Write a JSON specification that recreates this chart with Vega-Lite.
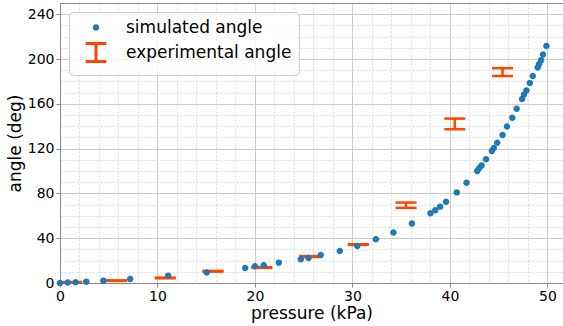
{
  "$schema": "https://vega.github.io/schema/vega-lite/v6.json",
  "width": 503,
  "height": 280,
  "autosize": {"type": "none"},
  "padding": {"left": 60, "top": 3, "right": 0, "bottom": 43},
  "config": {
    "view": {"stroke": null},
    "font": "DejaVu Sans",
    "axis": {"labelFont": "DejaVu Sans", "titleFont": "DejaVu Sans"}
  },
  "datasets": {
    "sim": [
      {"series": "simulated angle", "p": 0, "angle": 0},
      {"series": "simulated angle", "p": 0.8, "angle": 0.4},
      {"series": "simulated angle", "p": 1.6, "angle": 0.6},
      {"series": "simulated angle", "p": 2.7, "angle": 1.2},
      {"series": "simulated angle", "p": 4.45, "angle": 2.1},
      {"series": "simulated angle", "p": 7.2, "angle": 3.6},
      {"series": "simulated angle", "p": 11.1, "angle": 6.6},
      {"series": "simulated angle", "p": 15.05, "angle": 9.3},
      {"series": "simulated angle", "p": 19.0, "angle": 13.4},
      {"series": "simulated angle", "p": 20.0, "angle": 14.9},
      {"series": "simulated angle", "p": 20.9, "angle": 15.8},
      {"series": "simulated angle", "p": 22.45, "angle": 18.2},
      {"series": "simulated angle", "p": 24.7, "angle": 21.2},
      {"series": "simulated angle", "p": 25.5, "angle": 22.4},
      {"series": "simulated angle", "p": 26.75, "angle": 25.0},
      {"series": "simulated angle", "p": 28.7, "angle": 28.6},
      {"series": "simulated angle", "p": 30.5, "angle": 33.1},
      {"series": "simulated angle", "p": 32.4, "angle": 39.1},
      {"series": "simulated angle", "p": 34.2, "angle": 45.1},
      {"series": "simulated angle", "p": 36.1, "angle": 53.1},
      {"series": "simulated angle", "p": 38.0, "angle": 62.2},
      {"series": "simulated angle", "p": 38.5, "angle": 65.0},
      {"series": "simulated angle", "p": 39.0, "angle": 68.2},
      {"series": "simulated angle", "p": 39.6, "angle": 72.6},
      {"series": "simulated angle", "p": 40.7, "angle": 80.9},
      {"series": "simulated angle", "p": 41.7, "angle": 89.5},
      {"series": "simulated angle", "p": 42.8, "angle": 100.0},
      {"series": "simulated angle", "p": 43.0, "angle": 102.5},
      {"series": "simulated angle", "p": 43.25, "angle": 105.0},
      {"series": "simulated angle", "p": 43.7, "angle": 110.5},
      {"series": "simulated angle", "p": 44.3, "angle": 117.8},
      {"series": "simulated angle", "p": 44.5, "angle": 120.6},
      {"series": "simulated angle", "p": 44.85, "angle": 125.2},
      {"series": "simulated angle", "p": 45.4, "angle": 132.2},
      {"series": "simulated angle", "p": 45.85, "angle": 139.7},
      {"series": "simulated angle", "p": 46.4, "angle": 147.6},
      {"series": "simulated angle", "p": 46.85, "angle": 155.6},
      {"series": "simulated angle", "p": 47.4, "angle": 164.3},
      {"series": "simulated angle", "p": 47.6, "angle": 168.2},
      {"series": "simulated angle", "p": 47.85, "angle": 172.0},
      {"series": "simulated angle", "p": 48.2, "angle": 178.5},
      {"series": "simulated angle", "p": 48.5, "angle": 184.9},
      {"series": "simulated angle", "p": 49.0, "angle": 192.4},
      {"series": "simulated angle", "p": 49.15, "angle": 195.5},
      {"series": "simulated angle", "p": 49.35, "angle": 199.0},
      {"series": "simulated angle", "p": 49.55, "angle": 204.0},
      {"series": "simulated angle", "p": 49.9, "angle": 211.7}
    ],
    "exp": [
      {"series": "experimental angle", "p": 1.2, "lo": 0.4, "hi": 0.8},
      {"series": "experimental angle", "p": 5.8, "lo": 1.9, "hi": 2.3},
      {"series": "experimental angle", "p": 10.8, "lo": 4.2, "hi": 4.8},
      {"series": "experimental angle", "p": 15.7, "lo": 10.2, "hi": 10.8},
      {"series": "experimental angle", "p": 20.7, "lo": 13.5, "hi": 14.1},
      {"series": "experimental angle", "p": 25.6, "lo": 23.2, "hi": 24.0},
      {"series": "experimental angle", "p": 30.6, "lo": 34.0, "hi": 34.6},
      {"series": "experimental angle", "p": 35.5, "lo": 67.1, "hi": 71.8},
      {"series": "experimental angle", "p": 40.5, "lo": 137.3, "hi": 146.8},
      {"series": "experimental angle", "p": 45.4, "lo": 184.8, "hi": 191.8}
    ]
  },
  "layer": [
    {
      "data": {"name": "exp"},
      "mark": {"type": "rule", "color": "#ff4500", "strokeWidth": 2.5},
      "encoding": {
        "x": {"field": "p", "type": "quantitative", "scale": {"domain": [0, 51.6], "nice": false, "zero": false},
          "axis": {"orient": "top", "labels": false, "ticks": false, "grid": false, "title": null, "domainColor": "#888888", "domainWidth": 1}},
        "y": {"field": "lo", "type": "quantitative", "scale": {"domain": [0, 250], "nice": false, "zero": false}, "axis": null},
        "y2": {"field": "hi"}
      }
    },
    {
      "data": {"name": "exp"},
      "mark": {"type": "tick", "orient": "horizontal", "color": "#ff4500", "size": 21, "thickness": 2.5, "opacity": 1},
      "encoding": {
        "x": {"field": "p", "type": "quantitative", "scale": {"domain": [0, 51.6], "nice": false, "zero": false}, "axis": null},
        "y": {"field": "lo", "type": "quantitative", "scale": {"domain": [0, 250], "nice": false, "zero": false}, "axis": null}
      }
    },
    {
      "data": {"name": "exp"},
      "mark": {"type": "tick", "orient": "horizontal", "color": "#ff4500", "size": 21, "thickness": 2.5, "opacity": 1},
      "encoding": {
        "x": {"field": "p", "type": "quantitative", "scale": {"domain": [0, 51.6], "nice": false, "zero": false}, "axis": null},
        "y": {"field": "hi", "type": "quantitative", "scale": {"domain": [0, 250], "nice": false, "zero": false}, "axis": null}
      }
    },
    {
      "data": {"name": "sim"},
      "mark": {"type": "point", "filled": false, "size": 12, "strokeWidth": 3, "opacity": 1},
      "encoding": {
        "x": {"field": "p", "type": "quantitative", "scale": {"domain": [0, 51.6], "nice": false, "zero": false},
          "axis": {
            "values": [0, 2, 4, 6, 8, 10, 12, 14, 16, 18, 20, 22, 24, 26, 28, 30, 32, 34, 36, 38, 40, 42, 44, 46, 48, 50],
            "title": "pressure (kPa)", "titleFontSize": 17, "titleFontWeight": "normal", "titleColor": "#000000", "titlePadding": 2,
            "labelFontSize": 14, "labelColor": "#000000", "labelPadding": 2, "labelOverlap": false, "labelFlush": false,
            "labelExpr": "datum.value % 10 === 0 ? datum.label : ''",
            "tickSize": 4, "tickColor": "#888888",
            "tickOpacity": {"condition": {"test": "datum.value % 10 === 0", "value": 1}, "value": 0},
            "grid": true,
            "gridColor": {"condition": {"test": "datum.value % 10 === 0", "value": "#cccccc"}, "value": "#dcdcdc"},
            "gridDash": {"condition": {"test": "datum.value % 10 === 0", "value": []}, "value": [2, 2]},
            "domainColor": "#888888", "domainWidth": 1
          }},
        "y": {"field": "angle", "type": "quantitative", "scale": {"domain": [0, 250], "nice": false, "zero": false},
          "axis": {
            "values": [0, 10, 20, 30, 40, 50, 60, 70, 80, 90, 100, 110, 120, 130, 140, 150, 160, 170, 180, 190, 200, 210, 220, 230, 240, 250],
            "title": "angle (deg)", "titleFontSize": 17, "titleFontWeight": "normal", "titleColor": "#000000", "titlePadding": 3,
            "labelFontSize": 14, "labelColor": "#000000", "labelPadding": 2, "labelOverlap": false, "labelFlush": false,
            "labelExpr": "datum.value % 40 === 0 ? datum.label : ''",
            "tickSize": 4, "tickColor": "#888888",
            "tickOpacity": {"condition": {"test": "datum.value % 40 === 0", "value": 1}, "value": 0},
            "grid": true,
            "gridColor": {"condition": {"test": "datum.value % 40 === 0", "value": "#cccccc"}, "value": "#dcdcdc"},
            "gridDash": {"condition": {"test": "datum.value % 40 === 0", "value": []}, "value": [2, 2]},
            "domainColor": "#888888", "domainWidth": 1
          }},
        "color": {"field": "series", "type": "nominal",
          "scale": {"domain": ["simulated angle", "experimental angle"], "range": ["#1f77b4", "#ff4500"]},
          "legend": {
            "title": null, "orient": "none", "legendX": 9, "legendY": 9, "padding": 7,
            "fillColor": "rgba(255,255,255,0.8)", "strokeColor": "#cccccc", "cornerRadius": 4,
            "labelFontSize": 17, "labelFont": "DejaVu Sans", "labelColor": "#000000", "labelLimit": 400,
            "symbolSize": 12, "symbolStrokeWidth": 3, "symbolOpacity": 1, "symbolOffset": 11.5, "labelOffset": 21.5, "rowPadding": 1
          }},
        "shape": {"field": "series", "type": "nominal",
          "scale": {"domain": ["simulated angle", "experimental angle"], "range": ["circle", "M-6,-5.2H6M0,-5.2V5.2M-6,5.2H6"]},
          "legend": {
            "title": null, "orient": "none", "legendX": 9, "legendY": 9, "padding": 7,
            "fillColor": "rgba(255,255,255,0.8)", "strokeColor": "#cccccc", "cornerRadius": 4,
            "labelFontSize": 17, "labelFont": "DejaVu Sans", "labelColor": "#000000", "labelLimit": 400,
            "symbolSize": 12, "symbolStrokeWidth": 3, "symbolOpacity": 1, "symbolOffset": 11.5, "labelOffset": 21.5, "rowPadding": 1
          }}
      }
    }
  ],
  "resolve": {"axis": {"x": "independent", "y": "independent"}}
}
